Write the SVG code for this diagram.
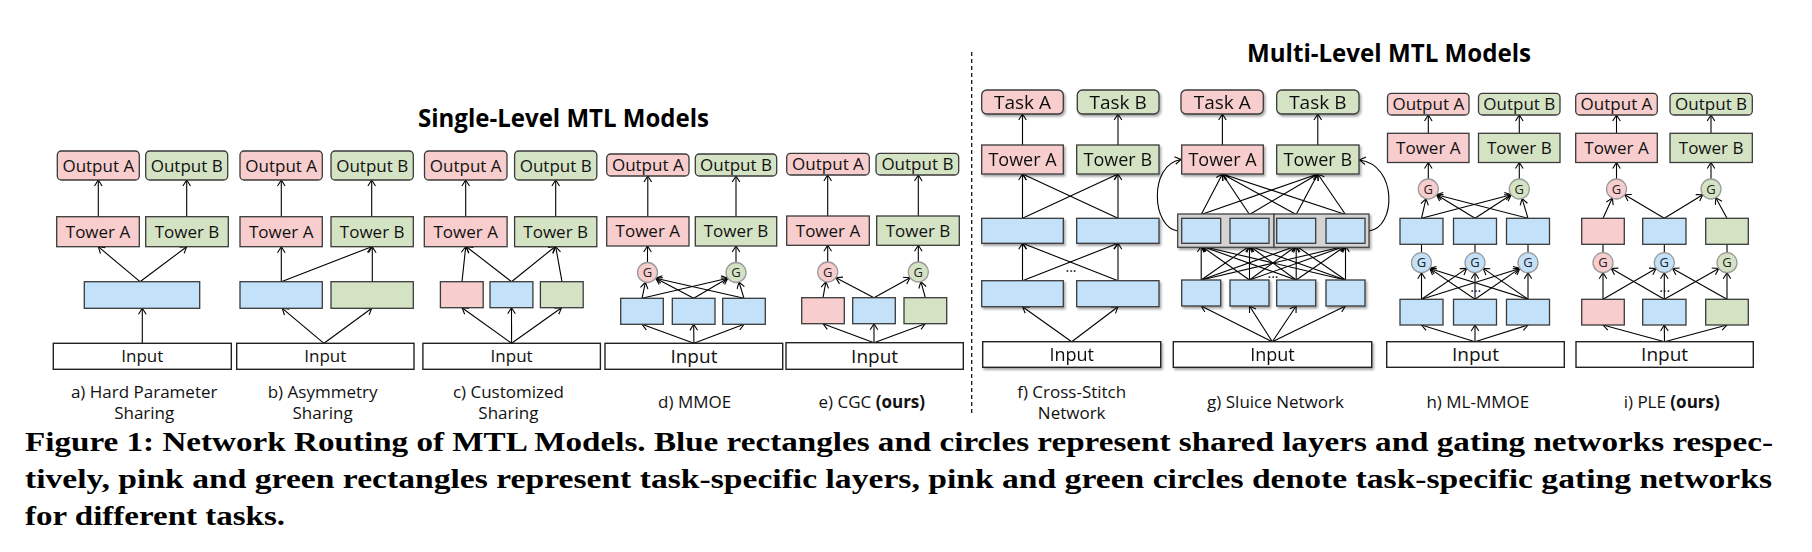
<svg xmlns="http://www.w3.org/2000/svg" width="1812" height="552" viewBox="0 0 1812 552">
<style>
.p{fill:#f7cdcd;stroke:#3a3a3a;stroke-width:1.3}
.g{fill:#d5e3c5;stroke:#3a3a3a;stroke-width:1.3}
.b{fill:#c4e1fa;stroke:#3a3a3a;stroke-width:1.3}
.in{fill:#fff;stroke:#222;stroke-width:1.4}
.ct{fill:#d4d4d4;stroke:#444;stroke-width:1.3}
.gp{fill:#f7cdcd;stroke:#9a9a9a;stroke-width:1.3}
.gg{fill:#d5e3c5;stroke:#9a9a9a;stroke-width:1.3}
.gb{fill:#c4e1fa;stroke:#9a9a9a;stroke-width:1.3}
text{font-family:"Open Sans","Noto Sans","DejaVu Sans",sans-serif;fill:#111;text-anchor:middle}
.l17{font-size:17px}
.l19{font-size:19px}
.l18{font-size:18px}
.gt{font-size:13px;fill:#222}
.cap{font-size:17px}
.dots{font-size:14px}
.ttl{font-size:25px;font-weight:bold;text-anchor:start;fill:#000}
text.fig{font-family:"Liberation Serif","Times New Roman",serif;font-size:28px;font-weight:bold;text-anchor:start;fill:#000}
.e{stroke:#000;stroke-width:1.1;fill:none;marker-end:url(#ah)}
.ln{stroke:#000;stroke-width:1.1;fill:none}
.sh{filter:url(#sh)}
</style>
<defs>
<marker id="ah" viewBox="-8 -5 10 10" refX="0" refY="0" markerWidth="10" markerHeight="10" markerUnits="userSpaceOnUse" orient="auto">
<path d="M-6,-3.8 L0,0 L-6,3.8" fill="none" stroke="#000" stroke-width="1.1"/>
</marker>
<filter id="sh" x="-10%" y="-20%" width="130%" height="160%">
<feDropShadow dx="1.5" dy="2" stdDeviation="1.2" flood-color="#000" flood-opacity="0.35"/>
</filter>
</defs>
<rect width="1812" height="552" fill="#fff"/>

<text id="title-single" class="ttl" x="418" y="126.7" textLength="291" lengthAdjust="spacingAndGlyphs">Single-Level MTL Models</text>
<text id="title-multi" class="ttl" x="1247" y="62" textLength="284" lengthAdjust="spacingAndGlyphs">Multi-Level MTL Models</text>

<line id="divider" x1="971.7" y1="52" x2="971.7" y2="415" stroke="#000" stroke-width="1.2" stroke-dasharray="4 3"/>

<!-- Connectors -->
<g id="connectors">
<!-- a -->
<line class="e" x1="140" y1="281.7" x2="98.3" y2="246.7"/>
<line class="e" x1="140" y1="281.7" x2="186.7" y2="246.7"/>
<line class="e" x1="142.3" y1="343.3" x2="142.3" y2="308.3"/>
<line class="e" x1="98.3" y1="216.7" x2="98.3" y2="180"/>
<line class="e" x1="186.7" y1="216.7" x2="186.7" y2="180"/>
<!-- b -->
<line class="e" x1="281.3" y1="281.7" x2="281.3" y2="246.7"/>
<line class="e" x1="281.3" y1="281.7" x2="371.7" y2="246.7"/>
<line class="e" x1="372.3" y1="281.7" x2="372.3" y2="246.7"/>
<line class="e" x1="324" y1="343.3" x2="282.3" y2="308.3"/>
<line class="e" x1="324" y1="343.3" x2="371.7" y2="308.3"/>
<line class="e" x1="281.3" y1="216.7" x2="281.3" y2="180"/>
<line class="e" x1="371.7" y1="216.7" x2="371.7" y2="180"/>
<!-- c -->
<line class="e" x1="462" y1="281.7" x2="465.7" y2="246.7"/>
<line class="e" x1="511.5" y1="281.7" x2="466.4" y2="246.7"/>
<line class="e" x1="511.5" y1="281.7" x2="555" y2="246.7"/>
<line class="e" x1="562" y1="281.7" x2="555.7" y2="246.7"/>
<line class="e" x1="511.6" y1="343.3" x2="462" y2="307.7"/>
<line class="e" x1="511.6" y1="343.3" x2="511.5" y2="307.7"/>
<line class="e" x1="511.6" y1="343.3" x2="561.5" y2="307.7"/>
<line class="e" x1="465.7" y1="216.7" x2="465.7" y2="180"/>
<line class="e" x1="555.7" y1="216.7" x2="555.7" y2="180"/>
<!-- d -->
<line class="e" x1="642" y1="298.3" x2="645.4" y2="282.3"/>
<line class="e" x1="642" y1="298.3" x2="727.8" y2="278.2"/>
<line class="e" x1="693.7" y1="298.3" x2="655.7" y2="278.2"/>
<line class="e" x1="693.7" y1="298.3" x2="727.8" y2="278.2"/>
<line class="e" x1="744" y1="298.3" x2="655.7" y2="278.2"/>
<line class="e" x1="744" y1="298.3" x2="739" y2="282"/>
<line class="e" x1="693.9" y1="343.3" x2="642" y2="324.3"/>
<line class="e" x1="693.9" y1="343.3" x2="693.7" y2="324.3"/>
<line class="e" x1="693.9" y1="343.3" x2="744" y2="324.3"/>
<line class="e" x1="647.5" y1="262.5" x2="647.5" y2="246"/>
<line class="e" x1="736" y1="262.5" x2="736" y2="246"/>
<line class="e" x1="647.8" y1="216.7" x2="647.8" y2="176"/>
<line class="e" x1="736" y1="216.7" x2="736" y2="176"/>
<!-- e -->
<line class="e" x1="823" y1="297.7" x2="825.9" y2="281.8"/>
<line class="e" x1="874" y1="297.7" x2="835.9" y2="277.7"/>
<line class="e" x1="874" y1="297.7" x2="910.1" y2="277.7"/>
<line class="e" x1="925.3" y1="297.7" x2="920.9" y2="281.7"/>
<line class="e" x1="874" y1="342.7" x2="823" y2="323.7"/>
<line class="e" x1="874" y1="342.7" x2="874" y2="323.7"/>
<line class="e" x1="874" y1="342.7" x2="925.3" y2="323.7"/>
<line class="e" x1="827.7" y1="262" x2="827.7" y2="245.3"/>
<line class="e" x1="918.3" y1="262" x2="918.3" y2="245.3"/>
<line class="e" x1="827.7" y1="216" x2="827.7" y2="175"/>
<line class="e" x1="918.3" y1="216" x2="918.3" y2="175"/>
<!-- f -->
<line class="e" x1="1022.5" y1="145" x2="1022.5" y2="114"/>
<line class="e" x1="1118" y1="145" x2="1118" y2="114"/>
<line class="e" x1="1022.5" y1="218.3" x2="1022.5" y2="174"/>
<line class="e" x1="1022.5" y1="218.3" x2="1118" y2="174"/>
<line class="e" x1="1118" y1="218.3" x2="1118" y2="174"/>
<line class="e" x1="1118" y1="218.3" x2="1022.5" y2="174"/>
<line class="e" x1="1022.5" y1="280.7" x2="1022.5" y2="243.3"/>
<line class="e" x1="1022.5" y1="280.7" x2="1118" y2="243.3"/>
<line class="e" x1="1118" y1="280.7" x2="1118" y2="243.3"/>
<line class="e" x1="1118" y1="280.7" x2="1022.5" y2="243.3"/>
<line class="e" x1="1071.7" y1="341.7" x2="1022.5" y2="306.7"/>
<line class="e" x1="1071.7" y1="341.7" x2="1118" y2="306.7"/>
<!-- g -->
<line class="e" x1="1222.4" y1="145" x2="1222.4" y2="114"/>
<line class="e" x1="1317.8" y1="145" x2="1317.8" y2="114"/>
<line class="e" x1="1201.2" y1="214.5" x2="1222.4" y2="174"/>
<line class="e" x1="1249.5" y1="214.5" x2="1222.4" y2="174"/>
<line class="e" x1="1296.2" y1="214.5" x2="1222.4" y2="174"/>
<line class="e" x1="1345.5" y1="214.5" x2="1222.4" y2="174"/>
<line class="e" x1="1201.2" y1="214.5" x2="1317.8" y2="174"/>
<line class="e" x1="1249.5" y1="214.5" x2="1317.8" y2="174"/>
<line class="e" x1="1296.2" y1="214.5" x2="1317.8" y2="174"/>
<line class="e" x1="1345.5" y1="214.5" x2="1317.8" y2="174"/>
<line class="e" x1="1201.2" y1="280" x2="1201.2" y2="246"/>
<line class="e" x1="1201.2" y1="280" x2="1249.5" y2="246"/>
<line class="e" x1="1201.2" y1="280" x2="1296.2" y2="246"/>
<line class="e" x1="1201.2" y1="280" x2="1345.5" y2="246"/>
<line class="e" x1="1249.5" y1="280" x2="1201.2" y2="246"/>
<line class="e" x1="1249.5" y1="280" x2="1249.5" y2="246"/>
<line class="e" x1="1249.5" y1="280" x2="1296.2" y2="246"/>
<line class="e" x1="1249.5" y1="280" x2="1345.5" y2="246"/>
<line class="e" x1="1296.2" y1="280" x2="1201.2" y2="246"/>
<line class="e" x1="1296.2" y1="280" x2="1249.5" y2="246"/>
<line class="e" x1="1296.2" y1="280" x2="1296.2" y2="246"/>
<line class="e" x1="1296.2" y1="280" x2="1345.5" y2="246"/>
<line class="e" x1="1345.5" y1="280" x2="1201.2" y2="246"/>
<line class="e" x1="1345.5" y1="280" x2="1249.5" y2="246"/>
<line class="e" x1="1345.5" y1="280" x2="1296.2" y2="246"/>
<line class="e" x1="1345.5" y1="280" x2="1345.5" y2="246"/>
<line class="e" x1="1272.3" y1="341.7" x2="1201.2" y2="306"/>
<line class="e" x1="1272.3" y1="341.7" x2="1249.5" y2="306"/>
<line class="e" x1="1272.3" y1="341.7" x2="1296.2" y2="306"/>
<line class="e" x1="1272.3" y1="341.7" x2="1345.5" y2="306"/>
<path class="e" d="M1177.7,231 C1152,228 1148,165 1181,159.5"/>
<path class="e" d="M1369,231 C1396,228 1398,165 1359.5,160"/>
<!-- h -->
<line class="e" x1="1428.3" y1="133.3" x2="1428.3" y2="115"/>
<line class="e" x1="1519.3" y1="133.3" x2="1519.3" y2="115"/>
<line class="e" x1="1428.3" y1="179" x2="1428.3" y2="162.5"/>
<line class="e" x1="1519.3" y1="179" x2="1519.3" y2="162.5"/>
<line class="e" x1="1421.5" y1="218.3" x2="1426" y2="198.7"/>
<line class="e" x1="1421.5" y1="218.3" x2="1511.1" y2="194.7"/>
<line class="e" x1="1475" y1="218.3" x2="1436.5" y2="194.7"/>
<line class="e" x1="1475" y1="218.3" x2="1511.1" y2="194.7"/>
<line class="e" x1="1528" y1="218.3" x2="1436.5" y2="194.7"/>
<line class="e" x1="1528" y1="218.3" x2="1522.1" y2="198.6"/>
<line class="ln" x1="1421.5" y1="252.7" x2="1421.5" y2="244.3"/>
<line class="ln" x1="1475" y1="252.7" x2="1475" y2="244.3"/>
<line class="ln" x1="1528" y1="252.7" x2="1528" y2="244.3"/>
<line class="e" x1="1421.5" y1="299.3" x2="1421.5" y2="272.7"/>
<line class="e" x1="1421.5" y1="299.3" x2="1466.8" y2="268.4"/>
<line class="e" x1="1421.5" y1="299.3" x2="1519.8" y2="268.4"/>
<line class="e" x1="1475" y1="299.3" x2="1429.7" y2="268.4"/>
<line class="e" x1="1475" y1="299.3" x2="1475" y2="272.7"/>
<line class="e" x1="1475" y1="299.3" x2="1519.8" y2="268.4"/>
<line class="e" x1="1528" y1="299.3" x2="1429.7" y2="268.4"/>
<line class="e" x1="1528" y1="299.3" x2="1483.2" y2="268.4"/>
<line class="e" x1="1528" y1="299.3" x2="1528" y2="272.7"/>
<line class="e" x1="1475" y1="341.7" x2="1421.5" y2="325"/>
<line class="e" x1="1475" y1="341.7" x2="1475" y2="325"/>
<line class="e" x1="1475" y1="341.7" x2="1528" y2="325"/>
<!-- i -->
<line class="e" x1="1616.5" y1="133.3" x2="1616.5" y2="115"/>
<line class="e" x1="1711" y1="133.3" x2="1711" y2="115"/>
<line class="e" x1="1616.5" y1="179" x2="1616.5" y2="162.5"/>
<line class="e" x1="1711" y1="179" x2="1711" y2="162.5"/>
<line class="e" x1="1603" y1="218.3" x2="1612.3" y2="198.1"/>
<line class="e" x1="1664.3" y1="218.3" x2="1624.7" y2="194.7"/>
<line class="e" x1="1664.3" y1="218.3" x2="1702.8" y2="194.7"/>
<line class="e" x1="1727" y1="218.3" x2="1715.8" y2="197.8"/>
<line class="ln" x1="1603" y1="252.7" x2="1603" y2="244.3"/>
<line class="ln" x1="1664.3" y1="252.7" x2="1664.3" y2="244.3"/>
<line class="ln" x1="1727" y1="252.7" x2="1727" y2="244.3"/>
<line class="e" x1="1603" y1="299.3" x2="1603" y2="272.7"/>
<line class="e" x1="1603" y1="299.3" x2="1656.1" y2="268.4"/>
<line class="e" x1="1664.3" y1="299.3" x2="1611.2" y2="268.4"/>
<line class="e" x1="1664.3" y1="299.3" x2="1664.3" y2="272.7"/>
<line class="e" x1="1664.3" y1="299.3" x2="1718.8" y2="268.4"/>
<line class="e" x1="1727" y1="299.3" x2="1672.5" y2="268.4"/>
<line class="e" x1="1727" y1="299.3" x2="1727" y2="272.7"/>
<line class="e" x1="1664.5" y1="341.7" x2="1603" y2="325"/>
<line class="e" x1="1664.5" y1="341.7" x2="1664.3" y2="325"/>
<line class="e" x1="1664.5" y1="341.7" x2="1727" y2="325"/>
</g>

<!-- Panel a -->
<g id="a-outA"><rect class="p" x="57.3" y="151" width="82" height="29" rx="4"/><text class="l17" x="98.3" y="171.5">Output A</text></g>
<g id="a-outB"><rect class="g" x="145.7" y="151" width="82" height="29" rx="4"/><text class="l17" x="186.7" y="171.5">Output B</text></g>
<g id="a-towA"><rect class="p" x="56.7" y="216.7" width="82.6" height="30"/><text class="l17" x="98" y="237.7">Tower A</text></g>
<g id="a-towB"><rect class="g" x="145.7" y="216.7" width="82.6" height="30"/><text class="l17" x="187" y="237.7">Tower B</text></g>
<g id="a-shared"><rect class="b" x="84.3" y="281.7" width="115.4" height="26.6"/></g>
<g id="a-input"><rect class="in" x="53.3" y="343.3" width="178" height="26"/><text class="l17" x="142.3" y="362.3">Input</text></g>
<g id="a-caption"><text class="cap" x="144.2" y="397.5">a) Hard Parameter</text><text class="cap" x="144.2" y="419">Sharing</text></g>

<!-- Panel b -->
<g id="b-outA"><rect class="p" x="240" y="151" width="82.3" height="29" rx="4"/><text class="l17" x="281.2" y="171.5">Output A</text></g>
<g id="b-outB"><rect class="g" x="331" y="151" width="82.3" height="29" rx="4"/><text class="l17" x="372.2" y="171.5">Output B</text></g>
<g id="b-towA"><rect class="p" x="240" y="216.7" width="82.3" height="30"/><text class="l17" x="281.2" y="237.7">Tower A</text></g>
<g id="b-towB"><rect class="g" x="331" y="216.7" width="82.3" height="30"/><text class="l17" x="372.2" y="237.7">Tower B</text></g>
<g id="b-shared"><rect class="b" x="240" y="281.7" width="82.3" height="26.6"/></g>
<g id="b-specB"><rect class="g" x="331" y="281.7" width="82.3" height="26.6"/></g>
<g id="b-input"><rect class="in" x="236.7" y="343.3" width="177.3" height="26"/><text class="l17" x="325.3" y="362.3">Input</text></g>
<g id="b-caption"><text class="cap" x="322.6" y="397.5">b) Asymmetry</text><text class="cap" x="322.6" y="419">Sharing</text></g>

<!-- Panel c -->
<g id="c-outA"><rect class="p" x="424.5" y="151" width="82.5" height="29" rx="4"/><text class="l17" x="465.7" y="171.5">Output A</text></g>
<g id="c-outB"><rect class="g" x="514.6" y="151" width="82.2" height="29" rx="4"/><text class="l17" x="555.7" y="171.5">Output B</text></g>
<g id="c-towA"><rect class="p" x="424.3" y="216.7" width="82.8" height="30"/><text class="l17" x="465.7" y="237.7">Tower A</text></g>
<g id="c-towB"><rect class="g" x="514.6" y="216.7" width="82.2" height="30"/><text class="l17" x="555.7" y="237.7">Tower B</text></g>
<g id="c-specA"><rect class="p" x="440.4" y="281.7" width="42.8" height="26"/></g>
<g id="c-shared"><rect class="b" x="490" y="281.7" width="42.9" height="26"/></g>
<g id="c-specB"><rect class="g" x="540.4" y="281.7" width="42.8" height="26"/></g>
<g id="c-input"><rect class="in" x="422.9" y="343.3" width="177.5" height="26"/><text class="l17" x="511.6" y="362.3">Input</text></g>
<g id="c-caption"><text class="cap" x="508.4" y="397.5">c) Customized</text><text class="cap" x="508.4" y="419">Sharing</text></g>

<!-- Panel d -->
<g id="d-outA"><rect class="p" x="606.7" y="154" width="82.3" height="22" rx="4"/><text class="l17" x="647.8" y="171">Output A</text></g>
<g id="d-outB"><rect class="g" x="695.3" y="154" width="81.4" height="22" rx="4"/><text class="l17" x="736" y="171">Output B</text></g>
<g id="d-towA"><rect class="p" x="606.7" y="216.7" width="82.3" height="29.3"/><text class="l17" x="647.8" y="237.3">Tower A</text></g>
<g id="d-towB"><rect class="g" x="695.3" y="216.7" width="81.4" height="29.3"/><text class="l17" x="736" y="237.3">Tower B</text></g>
<g id="d-gateA"><circle class="gp" cx="647.5" cy="272.5" r="10"/><text class="gt" x="647.5" y="277.1">G</text></g>
<g id="d-gateB"><circle class="gg" cx="736" cy="272.5" r="10"/><text class="gt" x="736" y="277.1">G</text></g>
<g id="d-exp1"><rect class="b" x="620.7" y="298.3" width="42.6" height="26"/></g>
<g id="d-exp2"><rect class="b" x="672.3" y="298.3" width="42.7" height="26"/></g>
<g id="d-exp3"><rect class="b" x="722.7" y="298.3" width="42.6" height="26"/></g>
<g id="d-input"><rect class="in" x="605" y="343.3" width="177.7" height="26"/><text class="l19" x="693.9" y="363">Input</text></g>
<g id="d-caption"><text class="cap" x="694.6" y="408">d) MMOE</text></g>

<!-- Panel e -->
<g id="e-outA"><rect class="p" x="786.7" y="153.3" width="82.6" height="21.7" rx="4"/><text class="l17" x="828" y="170.2">Output A</text></g>
<g id="e-outB"><rect class="g" x="876" y="153.3" width="82.7" height="21.7" rx="4"/><text class="l17" x="917.4" y="170.2">Output B</text></g>
<g id="e-towA"><rect class="p" x="786.7" y="216" width="82.6" height="29.3"/><text class="l17" x="828" y="236.6">Tower A</text></g>
<g id="e-towB"><rect class="g" x="876.7" y="216" width="82.6" height="29.3"/><text class="l17" x="918" y="236.6">Tower B</text></g>
<g id="e-gateA"><circle class="gp" cx="827.7" cy="272" r="10"/><text class="gt" x="827.7" y="276.6">G</text></g>
<g id="e-gateB"><circle class="gg" cx="918.3" cy="272" r="10"/><text class="gt" x="918.3" y="276.6">G</text></g>
<g id="e-specA"><rect class="p" x="801.7" y="297.7" width="42.6" height="26"/></g>
<g id="e-shared"><rect class="b" x="852.7" y="297.7" width="42.6" height="26"/></g>
<g id="e-specB"><rect class="g" x="904" y="297.7" width="42.7" height="26"/></g>
<g id="e-input"><rect class="in" x="786" y="342.7" width="177.3" height="26.6"/><text class="l19" x="874.6" y="362.6">Input</text></g>
<g id="e-caption"><text class="cap" x="871.8" y="408">e) CGC <tspan font-weight="bold">(ours)</tspan></text></g>

<!-- Panel f -->
<g id="f-taskA" class="sh"><rect class="p" x="981.7" y="90" width="81.6" height="24" rx="5"/><text class="l19" x="1022.5" y="108.8">Task A</text></g>
<g id="f-taskB" class="sh"><rect class="g" x="1077.3" y="90" width="81.7" height="24" rx="5"/><text class="l19" x="1118.1" y="108.8">Task B</text></g>
<g id="f-towA" class="sh"><rect class="p" x="981.7" y="145" width="81.6" height="29"/><text class="l18" x="1022.5" y="165.8">Tower A</text></g>
<g id="f-towB" class="sh"><rect class="g" x="1076.7" y="145" width="82.3" height="29"/><text class="l18" x="1117.8" y="165.8">Tower B</text></g>
<g id="f-upA" class="sh"><rect class="b" x="981.7" y="218.3" width="81.6" height="25"/></g>
<g id="f-upB" class="sh"><rect class="b" x="1076.7" y="218.3" width="82.3" height="25"/></g>
<g id="f-lowA" class="sh"><rect class="b" x="981.7" y="280.7" width="81.6" height="26"/></g>
<g id="f-lowB" class="sh"><rect class="b" x="1076.7" y="280.7" width="82.3" height="26"/></g>
<text id="f-dots" class="dots" x="1071" y="272">...</text>
<g id="f-input" class="sh"><rect class="in" x="982.7" y="341.7" width="178" height="25.6"/><text class="l18" x="1071.7" y="361">Input</text></g>
<g id="f-caption"><text class="cap" x="1071.7" y="397.5">f) Cross-Stitch</text><text class="cap" x="1071.7" y="419">Network</text></g>

<!-- Panel g -->
<g id="g-taskA" class="sh"><rect class="p" x="1181" y="90" width="82.3" height="24" rx="5"/><text class="l19" x="1222.2" y="108.8">Task A</text></g>
<g id="g-taskB" class="sh"><rect class="g" x="1276.7" y="90" width="82.3" height="24" rx="5"/><text class="l19" x="1317.8" y="108.8">Task B</text></g>
<g id="g-towA" class="sh"><rect class="p" x="1181.7" y="145" width="81.6" height="29"/><text class="l18" x="1222.5" y="165.8">Tower A</text></g>
<g id="g-towB" class="sh"><rect class="g" x="1276.7" y="145" width="82.3" height="29"/><text class="l18" x="1317.8" y="165.8">Tower B</text></g>
<g id="g-groupA" class="sh"><rect class="ct" x="1177.7" y="214" width="96.3" height="33.3"/><rect class="b" x="1181.7" y="218.3" width="39" height="25"/><rect class="b" x="1230" y="218.3" width="39" height="25"/></g>
<g id="g-groupB" class="sh"><rect class="ct" x="1274" y="214" width="95" height="33.3"/><rect class="b" x="1276.7" y="218.3" width="39" height="25"/><rect class="b" x="1326" y="218.3" width="39" height="25"/></g>
<g id="g-low1" class="sh"><rect class="b" x="1181.7" y="280" width="39" height="26"/></g>
<g id="g-low2" class="sh"><rect class="b" x="1230" y="280" width="39" height="26"/></g>
<g id="g-low3" class="sh"><rect class="b" x="1276.7" y="280" width="39" height="26"/></g>
<g id="g-low4" class="sh"><rect class="b" x="1326" y="280" width="39" height="26"/></g>
<text id="g-dots" class="dots" x="1273" y="278">...</text>
<g id="g-input" class="sh"><rect class="in" x="1173.3" y="341.7" width="198.4" height="25.6"/><text class="l18" x="1272.5" y="361">Input</text></g>
<g id="g-caption"><text class="cap" x="1275.5" y="408">g) Sluice Network</text></g>

<!-- Panel h -->
<g id="h-outA"><rect class="p" x="1387.5" y="93.3" width="81.5" height="21.7" rx="4"/><text class="l17" x="1428.3" y="110.2">Output A</text></g>
<g id="h-outB"><rect class="g" x="1478.5" y="93.3" width="81.5" height="21.7" rx="4"/><text class="l17" x="1519.3" y="110.2">Output B</text></g>
<g id="h-towA"><rect class="p" x="1387.5" y="133.3" width="81.5" height="29.2"/><text class="l17" x="1428.3" y="154">Tower A</text></g>
<g id="h-towB"><rect class="g" x="1478.5" y="133.3" width="81.5" height="29.2"/><text class="l17" x="1519.3" y="154">Tower B</text></g>
<g id="h-gateA"><circle class="gp" cx="1428.3" cy="189" r="10"/><text class="gt" x="1428.3" y="193.6">G</text></g>
<g id="h-gateB"><circle class="gg" cx="1519.3" cy="189" r="10"/><text class="gt" x="1519.3" y="193.6">G</text></g>
<g id="h-up1"><rect class="b" x="1400" y="218.3" width="43" height="26"/></g>
<g id="h-up2"><rect class="b" x="1453.5" y="218.3" width="43" height="26"/></g>
<g id="h-up3"><rect class="b" x="1506.5" y="218.3" width="43" height="26"/></g>
<g id="h-gate1"><circle class="gb" cx="1421.5" cy="262.7" r="10"/><text class="gt" x="1421.5" y="267.3">G</text></g>
<g id="h-gate2"><circle class="gb" cx="1475" cy="262.7" r="10"/><text class="gt" x="1475" y="267.3">G</text></g>
<g id="h-gate3"><circle class="gb" cx="1528" cy="262.7" r="10"/><text class="gt" x="1528" y="267.3">G</text></g>
<g id="h-low1"><rect class="b" x="1400" y="299.3" width="43" height="25.7"/></g>
<g id="h-low2"><rect class="b" x="1453.5" y="299.3" width="43" height="25.7"/></g>
<g id="h-low3"><rect class="b" x="1506.5" y="299.3" width="43" height="25.7"/></g>
<text id="h-dots" class="dots" x="1475.8" y="292">...</text>
<g id="h-input"><rect class="in" x="1386.7" y="341.7" width="177.6" height="25.6"/><text class="l19" x="1475.5" y="361.3">Input</text></g>
<g id="h-caption"><text class="cap" x="1477.8" y="408">h) ML-MMOE</text></g>

<!-- Panel i -->
<g id="i-outA"><rect class="p" x="1575.7" y="93.3" width="81.6" height="21.7" rx="4"/><text class="l17" x="1616.5" y="110.2">Output A</text></g>
<g id="i-outB"><rect class="g" x="1670" y="93.3" width="82.3" height="21.7" rx="4"/><text class="l17" x="1711.1" y="110.2">Output B</text></g>
<g id="i-towA"><rect class="p" x="1575.7" y="133.3" width="81.6" height="29.2"/><text class="l17" x="1616.5" y="154">Tower A</text></g>
<g id="i-towB"><rect class="g" x="1670" y="133.3" width="82.3" height="29.2"/><text class="l17" x="1711.1" y="154">Tower B</text></g>
<g id="i-gateA"><circle class="gp" cx="1616.5" cy="189" r="10"/><text class="gt" x="1616.5" y="193.6">G</text></g>
<g id="i-gateB"><circle class="gg" cx="1711" cy="189" r="10"/><text class="gt" x="1711" y="193.6">G</text></g>
<g id="i-upA"><rect class="p" x="1581.7" y="218.3" width="42.6" height="26"/></g>
<g id="i-upS"><rect class="b" x="1642.7" y="218.3" width="43.3" height="26"/></g>
<g id="i-upB"><rect class="g" x="1705.7" y="218.3" width="42.6" height="26"/></g>
<g id="i-gate1"><circle class="gp" cx="1603" cy="262.7" r="10"/><text class="gt" x="1603" y="267.3">G</text></g>
<g id="i-gate2"><circle class="gb" cx="1664.3" cy="262.7" r="10"/><text class="gt" x="1664.3" y="267.3">G</text></g>
<g id="i-gate3"><circle class="gg" cx="1727" cy="262.7" r="10"/><text class="gt" x="1727" y="267.3">G</text></g>
<g id="i-lowA"><rect class="p" x="1581.7" y="299.3" width="42.6" height="25.7"/></g>
<g id="i-lowS"><rect class="b" x="1642.7" y="299.3" width="43.3" height="25.7"/></g>
<g id="i-lowB"><rect class="g" x="1705.7" y="299.3" width="42.6" height="25.7"/></g>
<text id="i-dots" class="dots" x="1664.7" y="292">...</text>
<g id="i-input"><rect class="in" x="1576" y="341.7" width="177.3" height="25.6"/><text class="l19" x="1664.6" y="361.3">Input</text></g>
<g id="i-caption"><text class="cap" x="1671.7" y="408">i) PLE <tspan font-weight="bold">(ours)</tspan></text></g>

<!-- Figure caption -->
<g id="figure-caption">
<text class="fig" x="25" y="451" textLength="1748" lengthAdjust="spacingAndGlyphs">Figure 1: Network Routing of MTL Models. Blue rectangles and circles represent shared layers and gating networks respec-</text>
<text class="fig" x="25" y="488" textLength="1747" lengthAdjust="spacingAndGlyphs">tively, pink and green rectangles represent task-specific layers, pink and green circles denote task-specific gating networks</text>
<text class="fig" x="25" y="525" textLength="260" lengthAdjust="spacingAndGlyphs">for different tasks.</text>
</g>
</svg>
